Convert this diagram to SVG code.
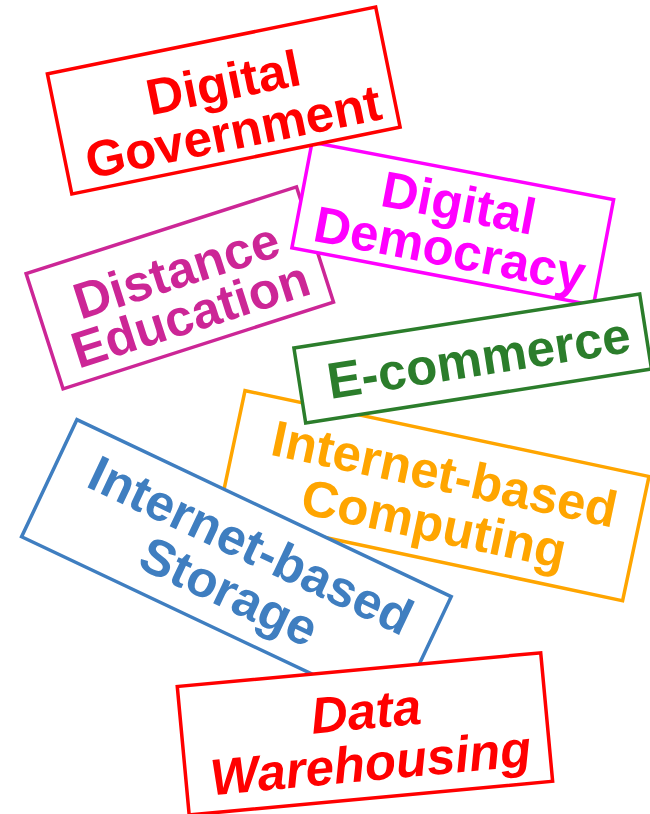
<svg xmlns="http://www.w3.org/2000/svg" width="650" height="814" viewBox="0 0 650 814">
  <style>
    .box { fill: #ffffff; stroke-width: 3.5; }
    .lbl { font-family: "Liberation Sans", Arial, sans-serif; font-weight: bold; font-size: 51px; text-anchor: middle; }
    .it { font-style: italic; }
  </style>
  <rect width="650" height="814" fill="#ffffff"/>

  <!-- Distance Education -->
  <g id="distance-education" transform="translate(179.8,287.9) rotate(-17.8)">
    <rect class="box" x="-142" y="-60.5" width="284" height="121" stroke="#CC2696"/>
    <text class="lbl" fill="#CC2696"><tspan x="2" y="0">Distance</tspan><tspan x="2" y="46">Education</tspan></text>
  </g>

  <!-- Digital Democracy -->
  <g id="digital-democracy" transform="translate(452.75,223.75) rotate(10.8)">
    <rect class="box" x="-153.5" y="-53.75" width="307" height="107.5" stroke="#FF00FF"/>
    <text class="lbl" fill="#FF00FF"><tspan x="2" y="-4">Digital</tspan><tspan x="2" y="43">Democracy</tspan></text>
  </g>

  <!-- Digital Government -->
  <g id="digital-government" transform="translate(223.75,100.5) rotate(-11.5)">
    <rect class="box" x="-167.5" y="-61.3" width="335" height="122.6" stroke="#FF0000"/>
    <text class="lbl" fill="#FF0000"><tspan x="3" y="0">Digital</tspan><tspan x="3" y="50">Government</tspan></text>
  </g>

  <!-- Internet-based Computing -->
  <g id="internet-computing" transform="translate(433.8,495.7) rotate(12)">
    <rect class="box" x="-206.5" y="-63.5" width="413" height="127" stroke="#FFA500"/>
    <text class="lbl" fill="#FFA500"><tspan x="6" y="-6">Internet-based</tspan><tspan x="6" y="45">Computing</tspan></text>
  </g>

  <!-- E-commerce -->
  <g id="e-commerce" transform="translate(472.7,358.5) rotate(-8.9)">
    <rect class="box" x="-175" y="-38" width="350" height="76" stroke="#2B7D2B"/>
    <text class="lbl" fill="#2B7D2B"><tspan x="6" y="18">E-commerce</tspan></text>
  </g>

  <!-- Internet-based Storage -->
  <g id="internet-storage" transform="translate(236.4,566.7) rotate(25.3)">
    <rect class="box" x="-207" y="-64.75" width="414" height="129.5" stroke="#3F7EC0"/>
    <text class="lbl" fill="#3F7EC0"><tspan x="4" y="-8">Internet-based</tspan><tspan x="4" y="43">Storage</tspan></text>
  </g>

  <!-- Data Warehousing -->
  <g id="data-warehousing" transform="translate(364.95,733.9) rotate(-5.3)">
    <rect class="box" x="-182.5" y="-64.5" width="365" height="129" stroke="#FF0000"/>
    <text class="lbl it" fill="#FF0000"><tspan x="3" y="-5">Data</tspan><tspan x="3" y="47">Warehousing</tspan></text>
  </g>
</svg>
